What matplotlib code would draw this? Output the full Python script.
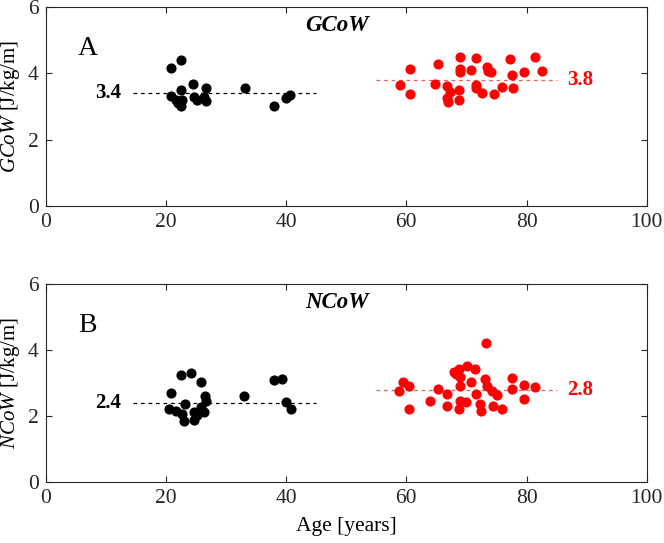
import matplotlib
matplotlib.use('Agg')
import matplotlib.pyplot as plt

plt.rcParams['font.family'] = 'Liberation Serif'
plt.rcParams['mathtext.fontset'] = 'custom'
plt.rcParams['mathtext.rm'] = 'Liberation Serif'
plt.rcParams['mathtext.it'] = 'Liberation Serif:italic'
plt.rcParams['mathtext.bf'] = 'Liberation Serif:bold:italic'

# Panel A - GCoW
young_age_a = [20.9, 22.5, 24.5, 22.5, 26.7, 20.8, 21.6, 22.7, 22.5, 24.6, 25.1, 26.3, 26.6,
               22.0, 33.1, 38.0, 40.0, 40.7]
young_gcow = [4.17, 4.41, 3.67, 3.50, 3.55, 3.30, 3.20, 3.20, 3.02, 3.27, 3.20, 3.27, 3.15,
              3.10, 3.57, 3.01, 3.25, 3.33]
old_age_a = [60.6, 59.0, 60.6, 65.3, 64.7, 68.9, 71.6, 68.9, 68.9, 70.7, 73.4, 73.6, 74.1,
             77.3, 81.4, 79.5, 82.6, 77.5, 66.8, 67.2, 66.8, 68.8, 68.8, 67.0, 71.6, 71.6,
             72.6, 74.5, 75.9, 77.7]
old_gcow = [4.13, 3.65, 3.37, 4.28, 3.67, 4.50, 4.47, 4.13, 4.03, 4.11, 4.20, 4.07, 4.05,
            4.42, 4.48, 4.05, 4.08, 3.95, 3.63, 3.45, 3.25, 3.50, 3.20, 3.13, 3.65, 3.55,
            3.40, 3.37, 3.59, 3.55]

# Panel B - NCoW
young_age_b = [22.5, 24.2, 25.9, 20.8, 26.5, 26.7, 20.5, 21.6, 23.1, 22.7, 23.0, 24.6, 24.6,
               25.8, 26.4, 25.1, 33.0, 38.0, 39.3, 40.0, 40.8]
young_ncow = [3.24, 3.30, 3.02, 2.69, 2.62, 2.47, 2.22, 2.17, 2.37, 2.07, 1.84, 1.87, 2.12,
              2.27, 2.12, 2.02, 2.62, 3.10, 3.12, 2.44, 2.22]
old_age_b = [73.3, 59.4, 60.5, 58.8, 60.5, 65.2, 63.9, 66.8, 66.8, 67.9, 68.8, 70.1, 71.4,
             68.2, 69.0, 70.7, 68.9, 73.1, 73.4, 74.2, 75.0, 71.6, 68.9, 69.9, 68.8, 72.3,
             72.5, 74.4, 75.9, 77.5, 77.5, 79.5, 79.5, 81.4]
old_ncow = [4.21, 3.04, 2.92, 2.77, 2.22, 2.82, 2.47, 2.67, 2.30, 3.34, 3.44, 3.52, 3.44,
            3.27, 3.17, 3.02, 2.92, 3.12, 2.92, 2.77, 2.64, 2.67, 2.47, 2.44, 2.22, 2.37,
            2.17, 2.30, 2.22, 3.14, 2.82, 2.94, 2.52, 2.87]

means_a = [3.4, 3.8]
means_b = [2.4, 2.8]
red = '#ff0000'

fig = plt.figure(figsize=(6.64, 5.43), dpi=100)
ax1 = fig.add_axes([0.069, 0.621, 0.905, 0.366])
ax2 = fig.add_axes([0.069, 0.112, 0.905, 0.365])

panels = [
    (ax1, young_age_a, young_gcow, old_age_a, old_gcow, means_a, 'GCoW', 'A'),
    (ax2, young_age_b, young_ncow, old_age_b, old_ncow, means_b, 'NCoW', 'B'),
]

for ax, ya, yv, oa, ov, m, name, letter in panels:
    ax.plot(ya, yv, 'o', color='black', ms=6.3, zorder=3)
    ax.plot(oa, ov, 'o', color=red, ms=6.3, zorder=3)
    ax.plot([14.5, 45], [m[0], m[0]], '--', color='black', lw=0.9, dashes=(3, 3))
    ax.plot([55, 85], [m[1], m[1]], '--', color='#e86060', lw=0.9, dashes=(3, 3))
    ax.text(12.5, m[0], f'{m[0]:.1f}', ha='right', va='center', fontsize=15, fontweight='bold')
    ax.text(86.8, m[1], f'{m[1]:.1f}', ha='left', va='center', fontsize=15, fontweight='bold', color=red)
    ax.text(48.5, 5.45, name, ha='center', va='center', fontsize=16.5, fontweight='bold', style='italic')
    ax.text(7, 4.75, letter, ha='center', va='center', fontsize=20)
    ax.set_xlim(0, 100)
    ax.set_ylim(0, 6)
    ax.set_xticks([0, 20, 40, 60, 80, 100])
    ax.set_yticks([0, 2, 4, 6])
    ax.tick_params(direction='in', top=True, right=True, labelsize=15.5, length=4.3,
                   pad=5, colors='#262626')
    for s in ax.spines.values():
        s.set_color('#262626')
        s.set_linewidth(0.8)
    ax.set_ylabel(f'$\\mathit{{{name}}}$ [J/kg/m]', fontsize=15)
    ax.yaxis.set_label_coords(-0.040, 0.5)

ax2.set_xlabel('Age [years]', fontsize=15.5)
ax2.xaxis.set_label_coords(0.5, -0.175)

fig.savefig('out.png', dpi=100)
